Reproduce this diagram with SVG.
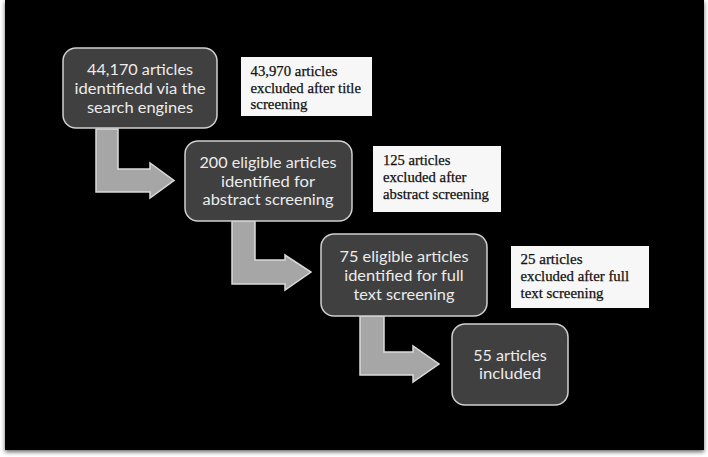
<svg xmlns="http://www.w3.org/2000/svg" width="708" height="457" viewBox="0 0 708 457">
  <defs>
    <filter id="shadow" x="-5%" y="-5%" width="110%" height="110%">
      <feDropShadow dx="0" dy="2" stdDeviation="2" flood-color="#000" flood-opacity="0.6"/>
    </filter>
  </defs>
  <style>
    .step { fill: #404040; stroke: #d0d0d0; stroke-width: 1.5; }
    .stept { font-family: Lato, "Liberation Sans", sans-serif; font-size: 15.5px; fill: #ececec; text-anchor: middle; }
    .note { fill: #f7f7f7; }
    .notet { font-family: "Liberation Serif", "Times New Roman", serif; font-size: 15px; fill: #111; stroke: #111; stroke-width: 0.25; }
    .arrow { fill: #a6a6a6; stroke: #dadada; stroke-width: 1.5; stroke-linejoin: miter; }
  </style>
  <rect x="0" y="0" width="708" height="457" fill="#ffffff"/>
  <rect x="5" y="0" width="699" height="450" fill="#000000" filter="url(#shadow)"/>

  <g id="connectors">
    <polygon class="arrow" points="96,129 118,129 118,169 150,169 150,163 174,180.5 150,198 150,192 96,192"/>
    <polygon class="arrow" points="232,221 255,221 255,260 285,260 285,255 311,272 285,290 285,284 232,284"/>
    <polygon class="arrow" points="360,316 384,316 384,352 413,352 413,346 439,364 413,382 413,375 360,375"/>
  </g>

  <g id="node1">
    <rect class="step" x="63" y="48" width="154" height="80" rx="13"/>
    <text class="stept" x="140" y="75" textLength="106" lengthAdjust="spacingAndGlyphs">44,170 articles</text>
    <text class="stept" x="140" y="94" textLength="131" lengthAdjust="spacingAndGlyphs">identifiedd via the</text>
    <text class="stept" x="140" y="113" textLength="106" lengthAdjust="spacingAndGlyphs">search engines</text>
  </g>
  <g id="note1">
    <rect class="note" x="241" y="57" width="131" height="59"/>
    <text class="notet" x="250.5" y="75.5" textLength="87" lengthAdjust="spacingAndGlyphs">43,970 articles</text>
    <text class="notet" x="250.5" y="92.5" textLength="110.5" lengthAdjust="spacingAndGlyphs">excluded after title</text>
    <text class="notet" x="250.5" y="109" textLength="57" lengthAdjust="spacingAndGlyphs">screening</text>
  </g>

  <g id="node2">
    <rect class="step" x="185" y="141" width="167" height="80" rx="13"/>
    <text class="stept" x="268" y="168" textLength="137" lengthAdjust="spacingAndGlyphs">200 eligible articles</text>
    <text class="stept" x="268" y="186.5" textLength="94" lengthAdjust="spacingAndGlyphs">identified for</text>
    <text class="stept" x="268" y="205" textLength="131" lengthAdjust="spacingAndGlyphs">abstract screening</text>
  </g>
  <g id="note2">
    <rect class="note" x="373" y="146" width="128" height="66"/>
    <text class="notet" x="383" y="165" textLength="67.5" lengthAdjust="spacingAndGlyphs">125 articles</text>
    <text class="notet" x="383" y="182" textLength="83.5" lengthAdjust="spacingAndGlyphs">excluded after</text>
    <text class="notet" x="383" y="199" textLength="106" lengthAdjust="spacingAndGlyphs">abstract screening</text>
  </g>

  <g id="node3">
    <rect class="step" x="321" y="234" width="166" height="82" rx="13"/>
    <text class="stept" x="404" y="262" textLength="129" lengthAdjust="spacingAndGlyphs">75 eligible articles</text>
    <text class="stept" x="404" y="280.5" textLength="119.5" lengthAdjust="spacingAndGlyphs">identified for full</text>
    <text class="stept" x="404" y="299.5" textLength="101" lengthAdjust="spacingAndGlyphs">text screening</text>
  </g>
  <g id="note3">
    <rect class="note" x="511" y="246" width="138" height="62"/>
    <text class="notet" x="520.5" y="264" textLength="62" lengthAdjust="spacingAndGlyphs">25 articles</text>
    <text class="notet" x="520.5" y="281" textLength="108.5" lengthAdjust="spacingAndGlyphs">excluded after full</text>
    <text class="notet" x="520.5" y="298" textLength="83" lengthAdjust="spacingAndGlyphs">text screening</text>
  </g>

  <g id="node4">
    <rect class="step" x="452" y="324" width="116" height="81" rx="13"/>
    <text class="stept" x="510" y="361" textLength="73.5" lengthAdjust="spacingAndGlyphs">55 articles</text>
    <text class="stept" x="510" y="379" textLength="62" lengthAdjust="spacingAndGlyphs">included</text>
  </g>
</svg>
